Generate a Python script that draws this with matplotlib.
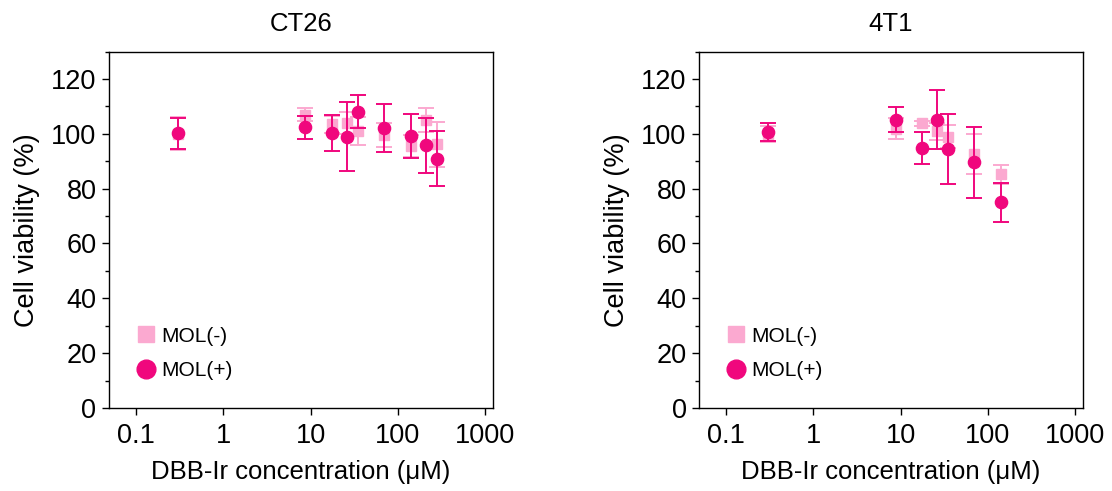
import matplotlib
matplotlib.use("Agg")
import matplotlib.pyplot as plt
from matplotlib.lines import Line2D
from matplotlib.ticker import LogLocator, FixedLocator, NullFormatter, MultipleLocator

plt.rcParams['font.family'] = ['Liberation Sans', 'DejaVu Sans']

# DBB-Ir concentrations (uM)
conc_ct26 = [0.3, 8.75, 17.5, 26.25, 35, 70, 140, 210, 280]
conc_4t1 = [0.3, 8.75, 17.5, 26.25, 35, 70, 140]

# CT26 viability (%) and SD
ct26_minus = [100.0, 107.0, 103.4, 103.8, 101.0, 99.6, 95.4, 105.0, 96.2]
ct26_minus_sd = [6.0, 2.5, 3.0, 4.0, 5.2, 4.5, 4.0, 4.5, 8.2]
ct26_plus = [100.2, 102.4, 100.2, 99.0, 108.0, 102.0, 99.2, 95.8, 90.9]
ct26_plus_sd = [5.6, 4.2, 6.5, 12.7, 6.0, 8.8, 8.0, 10.0, 10.1]

# 4T1 viability (%) and SD
t41_minus = [100.0, 101.9, 103.8, 100.9, 99.0, 92.8, 85.3]
t41_minus_sd = [3.0, 3.8, 1.0, 3.0, 4.2, 7.3, 3.5]
t41_plus = [100.8, 105.2, 94.7, 105.2, 94.5, 89.6, 75.0]
t41_plus_sd = [3.3, 4.6, 5.8, 10.6, 12.9, 12.9, 7.0]

titles = ["CT26", "4T1"]
x_ticks = [0.1, 1, 10, 100, 1000]
x_ticklabels = ["0.1", "1", "10", "100", "1000"]
y_ticks = [0, 20, 40, 60, 80, 100, 120]

c_plus = "#F0077D"
c_minus = "#FBA9D0"

fig = plt.figure(figsize=(11.12, 4.91), dpi=100)
ax1 = fig.add_axes([0.098, 0.169, 0.3453, 0.726])
ax2 = fig.add_axes([0.6286, 0.169, 0.3453, 0.726])

datasets = [
    (ax1, conc_ct26, ct26_minus, ct26_minus_sd, ct26_plus, ct26_plus_sd),
    (ax2, conc_4t1, t41_minus, t41_minus_sd, t41_plus, t41_plus_sd),
]

for (ax, conc, mm, mm_sd, mp, mp_sd), title in zip(datasets, titles):
    ax.errorbar(conc, mm, yerr=mm_sd, fmt="s", color=c_minus, ecolor=c_minus,
                markersize=7, elinewidth=1.4, capsize=6, capthick=1.4, zorder=2)
    ax.errorbar(conc, mp, yerr=mp_sd, fmt="o", color=c_plus, ecolor=c_plus,
                markersize=8.8, elinewidth=1.4, capsize=6, capthick=1.4, zorder=3)
    ax.set_xscale("log")
    ax.set_xlim(0.049, 1230)
    ax.set_ylim(0, 130)
    ax.xaxis.set_major_locator(FixedLocator(x_ticks))
    ax.set_xticklabels(x_ticklabels)
    ax.xaxis.set_minor_locator(LogLocator(base=10, subs=range(2, 10)))
    ax.xaxis.set_minor_formatter(NullFormatter())
    ax.set_yticks(y_ticks)
    ax.yaxis.set_minor_locator(MultipleLocator(10))
    ax.tick_params(axis="both", which="major", direction="out", length=5,
                   width=1, labelsize=19.5, pad=4)
    ax.tick_params(axis="x", which="major", pad=6)
    ax.tick_params(axis="both", which="minor", direction="out", length=3, width=1)
    for sp in ax.spines.values():
        sp.set_linewidth(1)
    ax.set_xlabel("DBB-Ir concentration (μM)", fontsize=18.5, labelpad=8)
    ax.set_ylabel("Cell viability (%)", fontsize=19.5, labelpad=8)
    ax.set_title(title, fontsize=18.5, pad=15)
    handles = [
        Line2D([], [], linestyle="none", marker="s", markersize=12,
               color=c_minus, label="MOL(-)"),
        Line2D([], [], linestyle="none", marker="o", markersize=13.5,
               color=c_plus, label="MOL(+)"),
    ]
    ax.legend(handles=handles, loc="lower left", bbox_to_anchor=(0.02, 0.025),
              frameon=False, fontsize=15, handletextpad=0.25,
              labelspacing=0.75, handlelength=1.0)

fig.savefig("out.png", dpi=100)
